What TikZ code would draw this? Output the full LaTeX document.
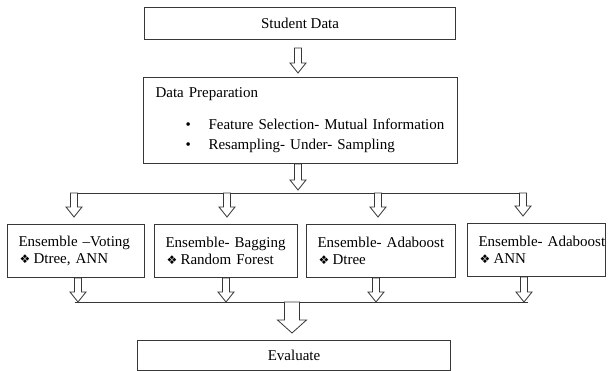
\documentclass[tikz,border=0pt]{standalone}
\usepackage{fontspec}
\setmainfont{Liberation Serif}
\newfontfamily\dingfont{DejaVu Sans}
\usepackage{tikz}
\usetikzlibrary{calc}
\definecolor{flowline}{RGB}{55,55,55}

%% hollow block arrow from #2 down to #3
\newcommand{\flowarrow}[3][arrsmall]{%
  \path #2 coordinate (fa-s) #3 coordinate (fa-e);
  \draw[flow,#1] ($(fa-s)+(-\arrsw,0)$) -- ($(fa-e)+(-\arrsw,-\arrhl)$)
    -- ($(fa-e)+(-\arrhw,-\arrhl)$) -- (fa-e) -- ($(fa-e)+(\arrhw,-\arrhl)$)
    -- ($(fa-e)+(\arrsw,-\arrhl)$) -- ($(fa-s)+(\arrsw,0)$) -- cycle;}
\newcommand{\ensembletext}[2]{\hspace*{11pt}#1\\
  \hspace*{12pt}\makebox[14pt][l]{\dingfont\fontsize{12}{12}\selectfont ❖}#2}

\begin{document}
\begin{tikzpicture}[x=1pt, y=-1pt,
  stage/.style={draw=flowline, line width=1.1pt, anchor=north west, inner sep=0pt,
                font=\fontsize{15}{17}\selectfont},
  ensemble/.style={stage, align=left, minimum height=53},
  flow/.style={draw=flowline, fill=white, line width=0.8pt, line join=miter},
  bus/.style={draw=flowline, line width=0.8pt},
  arrsmall/.code={\def\arrsw{3.5}\def\arrhw{8}\def\arrhl{10}},
  arrbig/.code={\def\arrsw{7.5}\def\arrhw{14.5}\def\arrhl{13}}
]
\useasboundingbox (0,0) rectangle (608,371);

%% Input and preparation
\node[stage, minimum width=311, minimum height=32] (sd) at (144,7) {Student Data};
\node[stage, minimum width=314, minimum height=86, text width=290, inner xsep=12,
      align=left] (prep) at (143,77)
  {Data Preparation\\[15pt]
   \hspace*{30pt}\makebox[23pt][l]{\textbullet}Feature Selection- Mutual Information\\[3pt]
   \hspace*{30pt}\makebox[23pt][l]{\textbullet}Resampling- Under- Sampling};

%% Ensemble models
\node[ensemble, text width=137] (e1) at (7,224)
  {\ensembletext{Ensemble –Voting}{Dtree, ANN}};
\node[ensemble, text width=143] (e2) at (154,224)
  {\ensembletext{Ensemble- Bagging}{Random Forest}};
\node[ensemble, text width=149] (e3) at (306,224)
  {\ensembletext{Ensemble- Adaboost}{Dtree}};
\node[ensemble, text width=138] (e4) at (467,223)
  {\ensembletext{Ensemble- Adaboost}{ANN}};

%% Output
\node[stage, minimum width=313, minimum height=30] (eval) at (137,340) {Evaluate};

%% Arrows: data -> preparation -> split
\coordinate (a1) at (298,48);
\flowarrow{(a1)}{($(a1 |- prep.north)+(0,-4)$)}
\coordinate (split) at (298,193);
\flowarrow{(split |- prep.south)}{($(split)+(0,-3)$)}

%% Split bus into the four ensembles
\foreach \n/\x in {1/74,2/227,3/378,4/523} \coordinate (top\n) at (\x,193);
\draw[bus] ($(top1)+(-3.5,0)$) -- ($(top4)+(3.5,0)$);
\foreach \n in {1,...,4} \flowarrow{(top\n)}{($(top\n |- e\n.north)+(0,-7)$)};

%% Join bus into evaluation
\foreach \n/\x in {1/78,2/226,3/376,4/524} \coordinate (bot\n) at (\x,302);
\draw[bus] ($(bot1)+(-3.5,0)$) -- ($(bot4)+(3.5,0)$);
\foreach \n in {1,...,4} \flowarrow{(bot\n |- e\n.south)}{(bot\n)};
\coordinate (join) at (292,302);
\flowarrow[arrbig]{(join)}{($(join |- eval.north)+(0,-7)$)}

\end{tikzpicture}
\end{document}
